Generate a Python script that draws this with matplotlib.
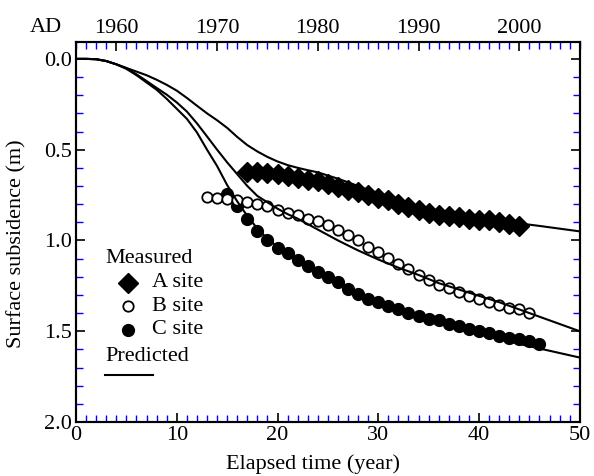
import matplotlib
matplotlib.use('Agg')
import matplotlib.pyplot as plt
import numpy as np
from matplotlib.ticker import MultipleLocator, FormatStrFormatter

plt.rcParams['font.family'] = ['Liberation Serif', 'DejaVu Serif']
plt.rcParams['font.size'] = 16

# Measured subsidence (m) vs elapsed time (year)
a_time = np.arange(17, 45)
a_subs = [0.625, 0.625, 0.63, 0.635, 0.645, 0.655, 0.665, 0.675, 0.69, 0.705,
          0.72, 0.735, 0.75, 0.765, 0.78, 0.80, 0.815, 0.835, 0.85, 0.86,
          0.865, 0.87, 0.88, 0.885, 0.89, 0.90, 0.91, 0.92]

b_time = np.arange(13, 46)
b_subs = [0.76, 0.765, 0.77, 0.78, 0.79, 0.80, 0.81, 0.83, 0.85, 0.86,
          0.88, 0.895, 0.915, 0.94, 0.97, 1.00, 1.035, 1.065, 1.095, 1.13,
          1.16, 1.19, 1.22, 1.245, 1.26, 1.285, 1.305, 1.32, 1.34, 1.355,
          1.37, 1.38, 1.40]

c_time = np.arange(15, 47)
c_subs = [0.745, 0.81, 0.88, 0.95, 0.995, 1.04, 1.07, 1.11, 1.14, 1.175,
          1.20, 1.23, 1.265, 1.295, 1.32, 1.34, 1.36, 1.38, 1.40, 1.415,
          1.43, 1.44, 1.46, 1.47, 1.49, 1.50, 1.51, 1.525, 1.535, 1.545,
          1.555, 1.57]

# Predicted curves
pa_time = [0, 1, 2, 3, 4, 5, 6, 7, 8, 9, 10, 11, 12, 13, 14, 15, 16, 17, 18,
           19, 20, 21, 22, 23, 24, 26, 28, 30, 32, 34, 36, 38, 40, 42, 44,
           46, 48, 50]
pa_subs = [0.0, 0.0, 0.002, 0.012, 0.03, 0.05, 0.07, 0.09, 0.115, 0.143,
           0.175, 0.215, 0.258, 0.30, 0.338, 0.38, 0.43, 0.475, 0.51, 0.54,
           0.565, 0.585, 0.60, 0.613, 0.625, 0.66, 0.70, 0.745, 0.785, 0.82,
           0.845, 0.865, 0.878, 0.892, 0.906, 0.92, 0.935, 0.95]

pb_time = [0, 1, 2, 3, 4, 5, 6, 7, 8, 9, 10, 11, 12, 13, 14, 15, 16, 17, 18,
           19, 20, 21, 22, 23, 24, 25, 26, 28, 30, 32, 34, 36, 38, 40, 42,
           44, 46, 48, 50]
pb_subs = [0.0, 0.0, 0.002, 0.012, 0.03, 0.052, 0.085, 0.122, 0.16, 0.197,
           0.24, 0.29, 0.355, 0.427, 0.50, 0.57, 0.635, 0.70, 0.755, 0.79,
           0.825, 0.855, 0.88, 0.91, 0.94, 0.97, 1.00, 1.055, 1.105, 1.15,
           1.19, 1.235, 1.27, 1.305, 1.34, 1.38, 1.42, 1.46, 1.50]

pc_time = [0, 1, 2, 3, 4, 5, 6, 7, 8, 9, 10, 11, 12, 13, 14, 15, 16, 17, 18,
           19, 20, 22, 24, 26, 28, 30, 32, 34, 36, 38, 40, 42, 44, 46, 48, 50]
pc_subs = [0.0, 0.0, 0.002, 0.012, 0.03, 0.055, 0.09, 0.13, 0.17, 0.22,
           0.275, 0.33, 0.405, 0.50, 0.59, 0.695, 0.785, 0.865, 0.935, 0.99,
           1.035, 1.11, 1.17, 1.225, 1.29, 1.34, 1.38, 1.41, 1.44, 1.475,
           1.51, 1.54, 1.57, 1.595, 1.62, 1.645]

start_year = 1956

fig = plt.figure(figsize=(5.94, 4.76), dpi=100)
ax = fig.add_axes([0.128, 0.1134, 0.848, 0.7984])

ax.plot(c_time, c_subs, 'o', color='black', ms=8.5, zorder=2)
ax.plot(b_time, b_subs, 'o', mfc='white', mec='black', mew=1.3, ms=7.5,
        zorder=3)
ax.plot(a_time, a_subs, 'D', color='black', ms=10, zorder=2)
for t, s in [(pa_time, pa_subs), (pb_time, pb_subs), (pc_time, pc_subs)]:
    ax.plot(t, s, color='black', lw=1.5, zorder=4)

ax.set_xlim(0, 50)
ax.set_ylim(2.0, -0.093)
ax.xaxis.set_major_locator(MultipleLocator(10))
ax.xaxis.set_minor_locator(MultipleLocator(1))
ax.yaxis.set_major_locator(MultipleLocator(0.5))
ax.yaxis.set_minor_locator(MultipleLocator(0.1))
ax.yaxis.set_major_formatter(FormatStrFormatter('%.1f'))
ax.tick_params(which='both', direction='in', top=False, right=True,
               labelsize=16)
ax.tick_params(which='major', length=6.5, width=1.2, color='black', pad=3)
ax.tick_params(which='minor', length=5, width=1.0, color='blue')
for sp in ax.spines.values():
    sp.set_linewidth(1.5)

ax.set_xlabel('Elapsed time (year)', fontsize=16)
ax.set_ylabel('Surface subsidence (m)', fontsize=16)
ax.xaxis.set_label_coords(0.471, -0.085)
ax.yaxis.set_label_coords(-0.098, 0.47)

top = ax.twiny()
top.set_xlim(start_year, start_year + 50)
top.xaxis.set_major_locator(MultipleLocator(10))
top.xaxis.set_minor_locator(MultipleLocator(1))
top.tick_params(which='both', direction='in', labelsize=16)
top.tick_params(which='major', length=6.5, width=1.2, color='black', pad=3)
top.tick_params(which='minor', length=5, width=1.0, color='blue')
for sp in top.spines.values():
    sp.set_linewidth(1.5)
ax.text(-0.06, 1.026, 'AD', transform=ax.transAxes, fontsize=16,
        ha='center', va='baseline')

# legend drawn by hand
tr = ax.transAxes
ax.text(0.058, 0.43, 'Measured', transform=tr, fontsize=16, va='center')
ax.plot([0.103], [0.366], 'D', color='black', ms=10, transform=tr)
ax.plot([0.103], [0.305], 'o', mfc='white', mec='black', mew=1.3, ms=7.5,
        transform=tr)
ax.plot([0.103], [0.243], 'o', color='black', ms=8.5, transform=tr)
for yy, lab in [(0.366, 'A site'), (0.305, 'B site'), (0.243, 'C site')]:
    ax.text(0.15, yy, lab, transform=tr, fontsize=16, va='center')
ax.text(0.058, 0.173, 'Predicted', transform=tr, fontsize=16, va='center')
ax.plot([0.058, 0.152], [0.123, 0.123], color='black', lw=1.5, transform=tr)

fig.savefig('out.png', dpi=100)
